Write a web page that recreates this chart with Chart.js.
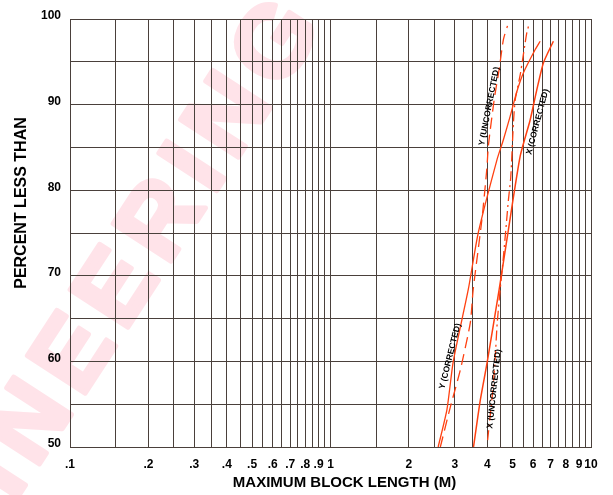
<!DOCTYPE html>
<html><head><meta charset="utf-8">
<script src="https://cdn.jsdelivr.net/npm/chart.js@4"></script>
<style>html,body{margin:0;padding:0;background:#fff;}canvas{display:block;}</style>
</head><body>
<canvas id="c" width="613" height="495"></canvas>
<script>
// ---- data ----
const yCorrectedX   = [2.59, 2.80, 2.96, 3.38, 3.69, 4.36, 4.61, 4.89, 5.19, 5.50, 6.10, 6.38];
const yCorrectedY   = [50, 54.4, 60, 68.4, 75.0, 83.6, 85.9, 88.6, 91.5, 93.7, 96.4, 97.4];
const yUncorrectedX = [2.64, 2.88, 3.15, 3.44, 3.53, 3.81, 3.98, 4.04, 4.26, 4.44, 4.61, 4.78];
const yUncorrectedY = [50, 54.6, 59.0, 64.5, 68.4, 76.5, 82.4, 85.3, 90.8, 94.1, 97.6, 99.2];
const xUncorrectedX = [4.01, 4.20, 4.29, 4.36, 4.48, 4.60, 4.72, 4.82, 4.92, 5.04, 5.12, 5.35, 5.67, 5.80];
const xUncorrectedY = [50.8, 56.7, 60.5, 64.3, 68.4, 71.9, 75.7, 78.9, 81.5, 88.0, 90.6, 93.5, 98.4, 99.5];
const xCorrectedX   = [3.54, 3.76, 4.00, 4.44, 4.82, 5.35, 5.84, 6.19, 6.57, 7.17];
const xCorrectedY   = [50, 55.5, 60, 68.4, 75.4, 84.0, 88.2, 91.7, 94.9, 97.4];

const curveLabels = ['Y (UNCORRECTED)', 'X (CORRECTED)', 'Y (CORRECTED)', 'X (UNCORRECTED)'];
const curveLabelX = [4.07, 6.24, 2.88, 4.25];
const curveLabelY = [89.8, 88.0, 60.6, 56.8];
const curveLabelAngle = [-79, -75, -76, -84];

const xGridValues = [0.1,0.15,0.2,0.25,0.3,0.35,0.4,0.45,0.5,0.55,0.6,0.65,0.7,0.75,0.8,0.85,0.9,0.95,1,1.5,2,2.5,3,3.5,4,4.5,5,5.5,6,6.5,7,7.5,8,8.5,9,9.5,10];
const xTickValues = [0.1,0.2,0.3,0.4,0.5,0.6,0.7,0.8,0.9,1,2,3,4,5,6,7,8,9,10];
const xTickLabels = ['.1','.2','.3','.4','.5','.6','.7','.8','.9','1','2','3','4','5','6','7','8','9','10'];
const yGridValues = [50,55,60,65,70,75,80,85,90,95,100];
const yTickValues = [50,60,70,80,90,100];

const xTitle = 'MAXIMUM BLOCK LENGTH (M)';
const yTitle = 'PERCENT LESS THAN';
const watermarkText = 'ENGINEERING';

// ---- styles ----
const FONT = '"Liberation Sans", Arial, Helvetica, sans-serif';
const gridColor = '#4a403b';
const curveColor = '#ff4010';

function pts(xs, ys){ return xs.map((x,i)=>({x:x, y:ys[i]})); }

const watermarkPlugin = {
  id:'watermark',
  beforeDraw(chart){
    const ctx = chart.ctx;
    ctx.save();
    ctx.fillStyle = '#ffffff';
    ctx.fillRect(0,0,chart.width,chart.height);
    ctx.translate(323, 27);
    ctx.rotate(-57*Math.PI/180);
    ctx.font = 'bold 100px ' + FONT;
    ctx.textAlign = 'left';
    ctx.textBaseline = 'alphabetic';
    ctx.fillStyle = '#ffe3e9';
    ctx.strokeStyle = '#ffe3e9';
    ctx.lineWidth = 5;
    ctx.lineJoin = 'round';
    const spacing = 12;
    const chars = watermarkText.split('');
    let x = 0;
    for (let i = chars.length - 1; i >= 0; i--) {
      const w = ctx.measureText(chars[i]).width;
      x -= w;
      ctx.fillText(chars[i], x, 0);
      ctx.strokeText(chars[i], x, 0);
      x -= spacing;
    }
    ctx.restore();
  }
};

const labelPlugin = {
  id:'curveLabels',
  afterDatasetsDraw(chart){
    const ctx = chart.ctx, xs = chart.scales.x, ys = chart.scales.y;
    ctx.save();
    ctx.fillStyle = '#000';
    ctx.font = 'bold 8.5px ' + FONT;
    ctx.textAlign = 'center';
    ctx.textBaseline = 'middle';
    curveLabels.forEach((t,i)=>{
      const px = xs.getPixelForValue(curveLabelX[i]);
      const py = ys.getPixelForValue(curveLabelY[i]);
      ctx.save();
      ctx.translate(px, py);
      ctx.rotate(curveLabelAngle[i]*Math.PI/180);
      ctx.fillText(t, 0, 0);
      ctx.restore();
    });
    ctx.restore();
  },
  afterDraw(chart){
    const ctx = chart.ctx, a = chart.chartArea;
    ctx.save();
    ctx.fillStyle = '#000';
    ctx.textAlign = 'center';
    ctx.textBaseline = 'middle';
    ctx.font = 'bold 15px ' + FONT;
    ctx.fillText(xTitle, (a.left + a.right)/2 + 14, 483);
    ctx.font = 'bold 16px ' + FONT;
    ctx.translate(22, (a.top + a.bottom)/2 - 30);
    ctx.rotate(-Math.PI/2);
    ctx.fillText(yTitle, 0, 0);
    ctx.restore();
  }
};

new Chart(document.getElementById('c'), {
  type:'line',
  data:{
    datasets:[
      {label:'Y (CORRECTED)', data:pts(yCorrectedX, yCorrectedY), borderColor:curveColor, borderWidth:1.3, tension:0.2},
      {label:'Y (UNCORRECTED)', data:pts(yUncorrectedX, yUncorrectedY), borderColor:curveColor, borderWidth:1.3, borderDash:[11,6], tension:0.2},
      {label:'X (UNCORRECTED)', data:pts(xUncorrectedX, xUncorrectedY), borderColor:curveColor, borderWidth:1.3, borderDash:[10,4,2,4], tension:0.2},
      {label:'X (CORRECTED)', data:pts(xCorrectedX, xCorrectedY), borderColor:curveColor, borderWidth:1.5, tension:0.2}
    ]
  },
  options:{
    responsive:false,
    devicePixelRatio:1,
    animation:false,
    events:[],
    layout:{padding:{top:19,right:22,left:0,bottom:0}},
    elements:{point:{radius:0}},
    plugins:{legend:{display:false},tooltip:{enabled:false}},
    scales:{
      x:{
        type:'logarithmic', min:0.1, max:10,
        afterBuildTicks:s=>{ s.ticks = xGridValues.map(v=>({value:v})); },
        afterFit:s=>{ s.height = 48; },
        grid:{color:gridColor, lineWidth:1, drawTicks:false},
        border:{display:true, color:gridColor},
        ticks:{autoSkip:false, maxRotation:0, minRotation:0, padding:10, color:'#000',
          font:{family:FONT, size:12, weight:'bold'},
          callback:(v)=>{ const i = xTickValues.findIndex(t=>Math.abs(t-v)<1e-9); return i>=0 ? xTickLabels[i] : ''; }}
      },
      y:{
        min:50, max:100,
        afterBuildTicks:s=>{ s.ticks = yGridValues.map(v=>({value:v})); },
        afterFit:s=>{ s.width = 70; },
        grid:{color:gridColor, lineWidth:1, drawTicks:false},
        border:{display:true, color:gridColor},
        ticks:{autoSkip:false, padding:9, labelOffset:-3, color:'#000',
          font:{family:FONT, size:12, weight:'bold'},
          callback:(v)=> yTickValues.includes(v) ? String(v) : ''}
      }
    }
  },
  plugins:[watermarkPlugin, labelPlugin]
});
</script>
</body></html>
